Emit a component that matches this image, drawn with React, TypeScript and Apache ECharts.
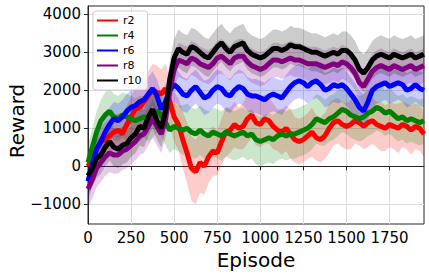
import { useEffect, useRef } from "react";
import * as echarts from "echarts";

const FONT = "DejaVu Sans";

const episodes = [
  0, 25, 50, 75, 100, 125, 150, 175, 200, 225,
  250, 275, 300, 325, 350, 375, 400, 425, 450, 475,
  500, 525, 550, 575, 600, 625, 650, 675, 700, 725,
  750, 775, 800, 825, 850, 875, 900, 925, 950, 975,
  1000, 1025, 1050, 1075, 1100, 1125, 1150, 1175, 1200, 1225,
  1250, 1275, 1300, 1325, 1350, 1375, 1400, 1425, 1450, 1475,
  1500, 1525, 1550, 1575, 1600, 1625, 1650, 1675, 1700, 1725,
  1750, 1775, 1800, 1825, 1850, 1875, 1900, 1925, 1950,
];

const xTicks = [0, 250, 500, 750, 1000, 1250, 1500, 1750];
const yTicks = [-1000, 0, 1000, 2000, 3000, 4000];

const r2Mean = [
  0, 200, 450, 650, 700, 800, 900, 950, 850, 1100,
  1300, 1500, 1550, 1700, 1850, 2000, 1950, 1900, 2050, 1700,
  1300, 1100, 700, 350, -50, -150, 100, 0, 250, 400,
  350, 650, 900, 950, 1100, 1000, 1050, 1250, 1350, 1150,
  1100, 1250, 1200, 1050, 950, 900, 1000, 850, 700, 650,
  700, 800, 900, 750, 700, 800, 1000, 1150, 1200, 1100,
  1050, 1100, 1200, 1150, 1050, 1150, 1200, 1100, 1050, 1000,
  1100, 1050, 1000, 1100, 1050, 950, 1050, 1000, 850,
];
const r2Spread = [
  300, 350, 400, 400, 450, 450, 450, 450, 500, 500,
  550, 550, 600, 600, 650, 700, 700, 650, 650, 650,
  650, 700, 750, 800, 850, 850, 800, 750, 700, 650,
  600, 600, 650, 600, 600, 550, 600, 650, 600, 600,
  600, 650, 600, 600, 550, 600, 600, 650, 600, 600,
  600, 600, 650, 600, 600, 600, 650, 600, 600, 600,
  600, 650, 600, 600, 600, 650, 600, 600, 650, 600,
  600, 600, 650, 600, 600, 650, 600, 600, 600,
];

const r4Mean = [
  100, 500, 900, 1200, 1350, 1450, 1300, 1250, 1350, 1300,
  1250, 1200, 1250, 1300, 1200, 1300, 1450, 1350, 1150, 950,
  1050, 1000, 950, 1000, 900, 850, 950, 850, 800, 900,
  850, 800, 900, 850, 800, 850, 900, 800, 850, 700,
  650, 700, 750, 700, 800, 850, 800, 850, 850, 900,
  950, 1000, 1100, 1250, 1200, 1150, 1250, 1300, 1400, 1500,
  1450, 1350, 1300, 1250, 1300, 1400, 1450, 1550, 1500, 1400,
  1450, 1350, 1250, 1300, 1200, 1250, 1200, 1150, 1200,
];
const r4Spread = [
  450, 500, 550, 550, 600, 600, 600, 600, 600, 600,
  600, 600, 600, 550, 550, 550, 550, 550, 600, 600,
  600, 600, 650, 650, 650, 650, 650, 650, 650, 650,
  650, 650, 650, 650, 650, 650, 650, 650, 650, 650,
  650, 650, 650, 650, 650, 650, 650, 650, 650, 650,
  650, 650, 650, 650, 650, 600, 600, 600, 600, 600,
  600, 600, 600, 600, 600, 600, 600, 600, 600, 600,
  600, 600, 600, 600, 600, 600, 600, 600, 600,
];

const r6Mean = [
  -400, 50, 450, 650, 900, 1100, 1250, 1200, 1300, 1450,
  1550, 1600, 1700, 1750, 1900, 2050, 1850, 1500, 1700, 2000,
  2150, 2050, 1900, 1850, 2000, 2100, 1950, 1800, 1850, 2000,
  2100, 2050, 1900, 1850, 2000, 2100, 2050, 1900, 1850, 1850,
  1800, 1750, 1850, 1900, 1850, 1800, 1950, 2100, 2200, 2250,
  2200, 2100, 2200, 2250, 2150, 2000, 2050, 2150, 2100, 2150,
  2050, 1900, 1750, 1550, 1450, 1700, 2000, 2100, 2150, 2200,
  2100, 2150, 2200, 2150, 2000, 2050, 2150, 2050, 2000,
];
const r6Spread = [
  550, 550, 500, 500, 500, 450, 450, 450, 450, 450,
  450, 450, 450, 450, 450, 450, 450, 450, 450, 450,
  450, 450, 450, 450, 450, 450, 450, 450, 450, 450,
  450, 450, 450, 450, 450, 450, 450, 450, 450, 450,
  450, 450, 450, 450, 450, 450, 450, 450, 450, 450,
  450, 450, 450, 450, 450, 450, 450, 450, 450, 450,
  450, 450, 450, 450, 450, 450, 450, 450, 450, 450,
  450, 450, 450, 450, 450, 450, 450, 450, 450,
];

const r8Mean = [
  -600, -350, -50, 100, 250, 350, 300, 300, 400, 450,
  550, 650, 800, 850, 1050, 1250, 1050, 850, 1250, 2000,
  2550, 2800, 2750, 2700, 2850, 2800, 2700, 2650, 2600, 2700,
  2850, 2900, 2800, 2700, 2850, 2900, 2900, 2750, 2650, 2600,
  2550, 2600, 2700, 2800, 2800, 2750, 2800, 2850, 2800, 2800,
  2750, 2700, 2700, 2700, 2650, 2600, 2650, 2700, 2650, 2750,
  2700, 2600, 2450, 2200, 2100, 2300, 2500, 2600, 2650, 2600,
  2550, 2650, 2600, 2550, 2600, 2650, 2550, 2600, 2650,
];
const r8Spread = [
  500, 500, 500, 500, 500, 500, 500, 500, 500, 500,
  500, 500, 500, 500, 500, 500, 500, 500, 500, 500,
  450, 450, 450, 450, 450, 450, 450, 450, 450, 450,
  450, 450, 450, 450, 450, 450, 450, 450, 450, 450,
  450, 450, 450, 450, 450, 450, 450, 450, 450, 450,
  450, 450, 450, 450, 450, 450, 450, 450, 450, 450,
  450, 450, 450, 450, 450, 450, 450, 450, 450, 450,
  450, 450, 450, 450, 450, 450, 450, 450, 450,
];

const r10Mean = [
  -250, -50, 200, 300, 500, 650, 500, 450, 550, 600,
  750, 850, 1050, 1000, 1300, 1500, 1200, 1000, 1450, 2300,
  2850, 3100, 3000, 2950, 3150, 3100, 3000, 2900, 2850, 3000,
  3150, 3250, 3100, 3000, 3150, 3200, 3250, 3050, 2950, 2900,
  2850, 2900, 3000, 3100, 3100, 3050, 3100, 3200, 3150, 3150,
  3100, 3050, 3000, 3000, 2950, 2900, 2950, 3000, 2950, 3050,
  3050, 2950, 2800, 2550, 2450, 2600, 2800, 2900, 2950, 2900,
  2850, 2950, 2900, 2850, 2900, 2950, 2850, 2900, 2950,
];
const r10Spread = [
  500, 500, 500, 500, 500, 500, 500, 500, 500, 500,
  500, 500, 500, 500, 500, 500, 500, 500, 500, 500,
  500, 500, 500, 500, 500, 500, 500, 500, 500, 500,
  500, 500, 500, 500, 500, 500, 500, 500, 500, 500,
  500, 500, 500, 500, 500, 500, 500, 500, 500, 500,
  500, 500, 500, 500, 500, 500, 500, 500, 500, 500,
  500, 500, 500, 500, 500, 500, 500, 500, 500, 500,
  500, 500, 500, 500, 500, 500, 500, 500, 500,
];

const seriesDefs = [
  { name: "r2", color: "#ff0000", mean: r2Mean, spread: r2Spread },
  { name: "r4", color: "#008000", mean: r4Mean, spread: r4Spread },
  { name: "r6", color: "#0000ff", mean: r6Mean, spread: r6Spread },
  { name: "r8", color: "#800080", mean: r8Mean, spread: r8Spread },
  { name: "r10", color: "#000000", mean: r10Mean, spread: r10Spread },
];

export default function App() {
  const ref = useRef<HTMLDivElement>(null);

  useEffect(() => {
    if (!ref.current) return;
    const chart = echarts.init(ref.current, null, { renderer: "svg" });

    const series: any[] = [];
    seriesDefs.forEach((s) => {
      series.push({
        type: "line",
        name: s.name,
        data: episodes.map((e, i) => [e, s.mean[i]]),
        symbol: "none",
        showSymbol: false,
        lineStyle: { color: s.color, width: 5 },
        itemStyle: { color: s.color },
        z: 2,
      });
      series.push({
        type: "custom",
        name: s.name + " band",
        silent: true,
        clip: true,
        data: [[0, 0]],
        renderItem: (_params: any, api: any) => {
          const upper = episodes.map((e, i) => api.coord([e, s.mean[i] + s.spread[i]]));
          const lower = episodes
            .map((e, i) => api.coord([e, s.mean[i] - s.spread[i]]))
            .reverse();
          return {
            type: "polygon",
            shape: { points: upper.concat(lower) },
            style: { fill: s.color, opacity: 0.2 },
          };
        },
        z: 2,
      });
    });

    chart.setOption({
      animation: false,
      textStyle: { fontFamily: FONT },
      grid: {
        left: 88,
        right: 5,
        top: 6,
        bottom: 52,
        containLabel: false,
        outerBoundsMode: "none",
        show: true,
        borderColor: "#262626",
        borderWidth: 1,
        backgroundColor: "transparent",
      },
      graphic: [
        {
          type: "text",
          x: 17,
          y: 121,
          rotation: Math.PI / 2,
          style: {
            text: "Reward",
            fontSize: 20,
            fontFamily: FONT,
            fill: "#000",
            align: "center",
            verticalAlign: "middle",
          },
        },
      ],
      legend: {
        data: seriesDefs.map((s) => s.name),
        orient: "vertical",
        left: 93,
        top: 11,
        icon: "rect",
        itemWidth: 21,
        itemHeight: 2,
        itemGap: 4,
        backgroundColor: "rgba(255,255,255,0.8)",
        borderColor: "#cccccc",
        borderWidth: 1,
        borderRadius: 3,
        padding: [4, 6, 4, 4],
        textStyle: { fontSize: 11, color: "#000", fontFamily: FONT, lineHeight: 11 },
        z: 10,
      },
      xAxis: {
        type: "value",
        min: 0,
        max: 1950,
        name: "Episode",
        nameLocation: "middle",
        nameGap: 22,
        nameTextStyle: { fontSize: 20, color: "#000", fontFamily: FONT },
        axisLine: { show: true, lineStyle: { color: "#262626", width: 1 } },
        axisTick: {
          show: true,
          length: 4,
          customValues: xTicks,
          lineStyle: { color: "#262626" },
        },
        axisLabel: {
          customValues: xTicks,
          fontSize: 15,
          color: "#000",
          margin: 6,
          fontFamily: FONT,
          hideOverlap: false,
          formatter: (v: number) => String(v),
        },
        splitLine: { show: true, lineStyle: { color: "#dcdcdc", width: 1 } },
      },
      yAxis: {
        type: "value",
        min: -1520,
        max: 4220,
        axisLine: { show: true, lineStyle: { color: "#262626", width: 1 } },
        axisTick: {
          show: true,
          length: 4,
          customValues: yTicks,
          lineStyle: { color: "#262626" },
        },
        axisLabel: {
          customValues: yTicks,
          fontSize: 15,
          color: "#000",
          margin: 7,
          fontFamily: FONT,
          formatter: (v: number) => (v < 0 ? "\u2212" + Math.abs(v) : String(v)),
        },
        splitLine: { show: true, lineStyle: { color: "#dcdcdc", width: 1 } },
      },
      series,
    });

    return () => chart.dispose();
  }, []);

  return (
    <div
      ref={ref}
      style={{ position: "absolute", left: 0, top: 0, width: 429, height: 276, background: "#fff" }}
    />
  );
}
